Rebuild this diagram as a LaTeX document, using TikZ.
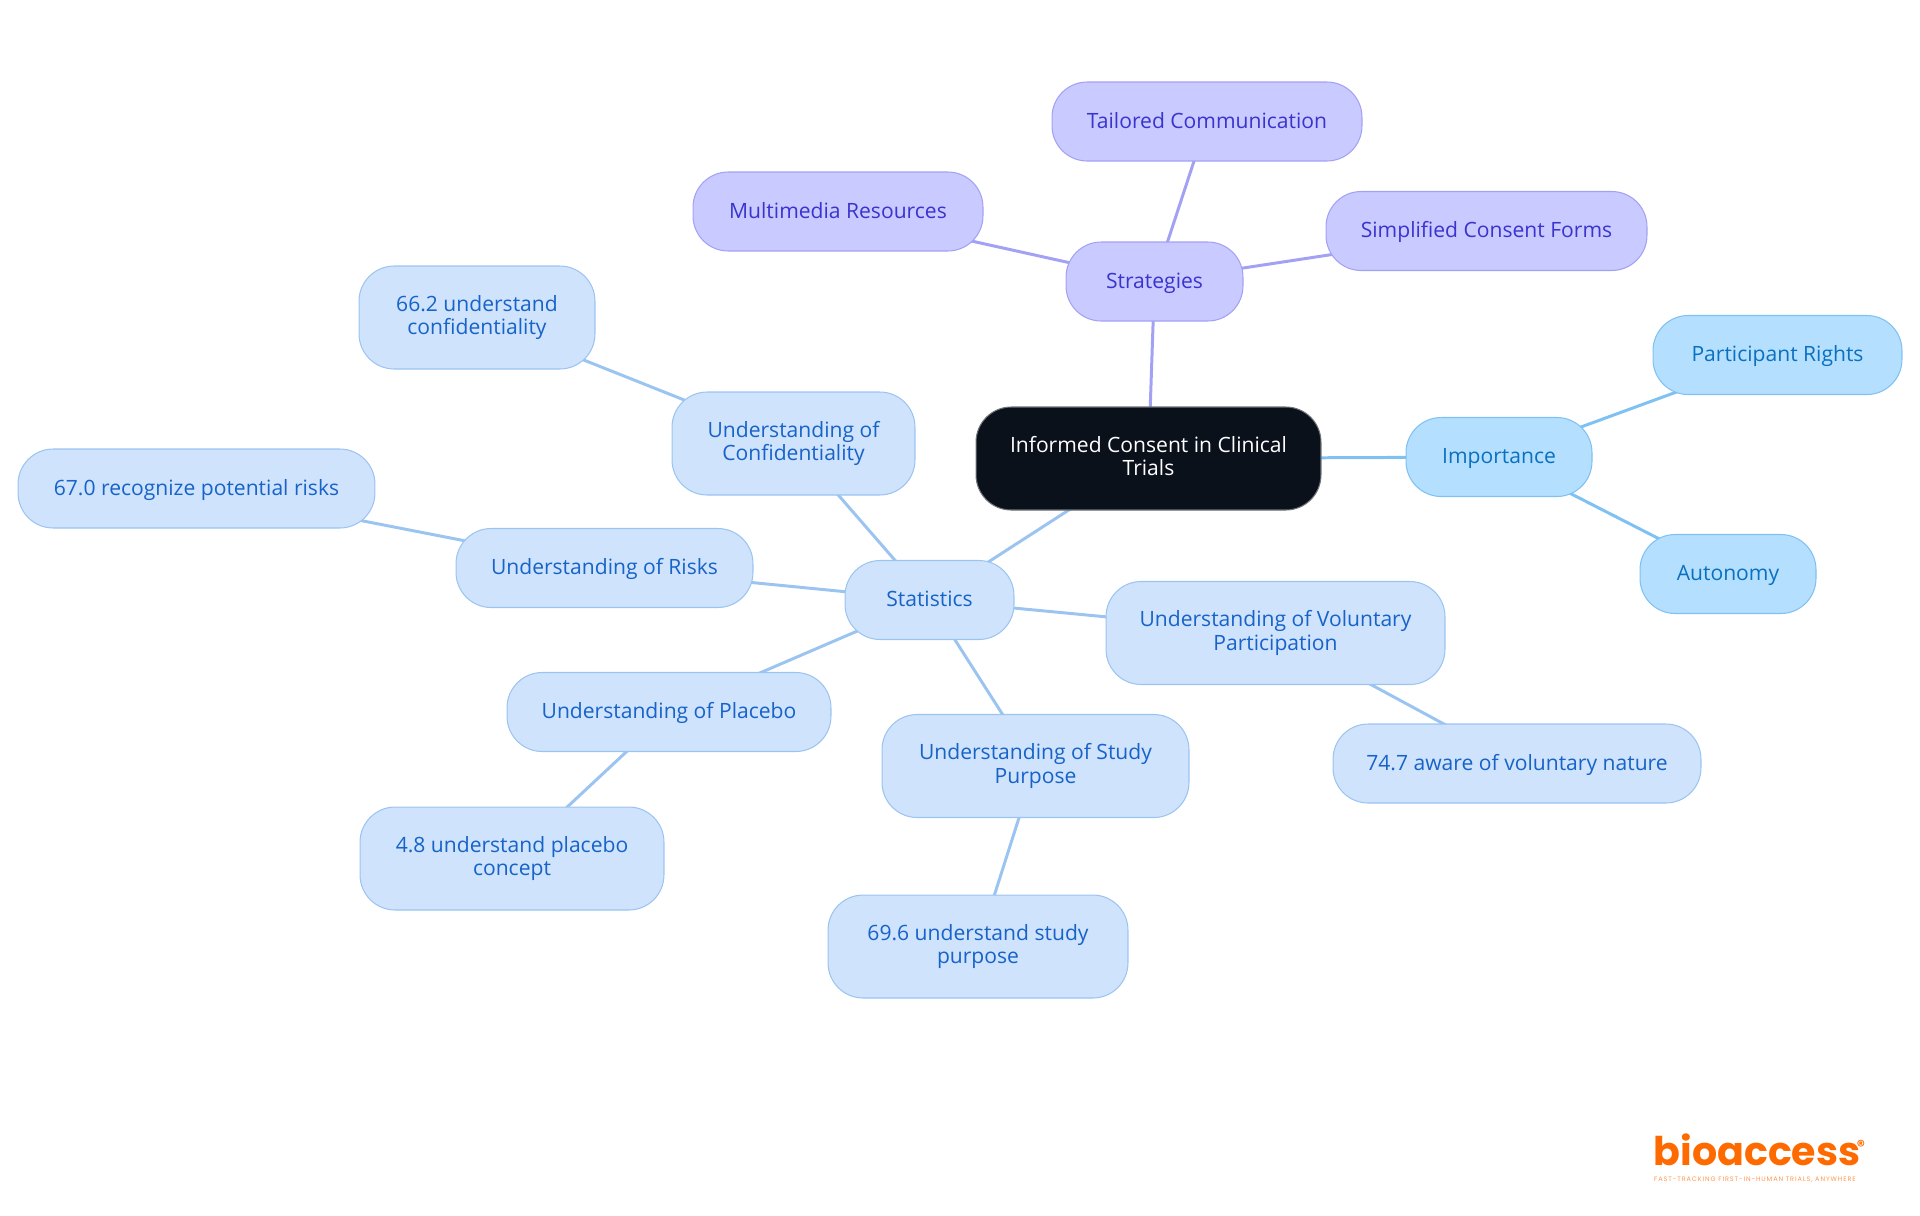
\documentclass[tikz,border=0pt]{standalone}
\usepackage{fontspec}
\usetikzlibrary{backgrounds}
\setmainfont{Open Sans}
\newfontfamily\logofont{Poppins}
\newfontfamily\tagfont[LetterSpace=14]{Poppins}
\definecolor{rootfill}{HTML}{0B111B}
\definecolor{rootline}{HTML}{6F7378}
\definecolor{stratfill}{HTML}{C9CAFF}
\definecolor{stratline}{HTML}{A3A1F3}
\definecolor{strattext}{HTML}{3A34CE}
\definecolor{impfill}{HTML}{B5DFFF}
\definecolor{impline}{HTML}{7FC1F2}
\definecolor{imptext}{HTML}{0A70C0}
\definecolor{statfill}{HTML}{CFE3FC}
\definecolor{statline}{HTML}{9CC4F1}
\definecolor{stattext}{HTML}{1763C8}
\definecolor{logoorange}{HTML}{FF6A00}
\tikzset{
  mapnode/.style={rounded corners=20pt, line width=0.6pt, inner sep=0pt, align=center,
    font=\fontsize{12pt}{13.2pt}\selectfont,
    execute at begin node={\rule{0pt}{10.8pt}}, execute at end node={\rule[-3pt]{0pt}{3pt}}},
  oneline/.style={minimum height=1.58cm},
  twoline/.style={minimum height=2.06cm},
  rootnode/.style={mapnode, twoline, fill=rootfill, draw=rootline, text=white},
  stratnode/.style={mapnode, oneline, fill=stratfill, draw=stratline, text=strattext},
  impnode/.style={mapnode, oneline, fill=impfill, draw=impline, text=imptext},
  statnode/.style={mapnode, oneline, fill=statfill, draw=statline, text=stattext},
  stratlink/.style={draw=stratline, line width=1.7pt},
  implink/.style={draw=impline, line width=1.7pt},
  statlink/.style={draw=statline, line width=1.7pt}
}
\begin{document}
\begin{tikzpicture}[x=0.02cm, y=-0.02cm]
        \useasboundingbox (0, 0) rectangle (1920, 1215);
        \node[rootnode, minimum width=6.9cm] (root) at (1148.5, 458.5) {Informed Consent in Clinical\\Trials};
        \node[stratnode, minimum width=3.54cm] (strategies) at (1154.5, 281.5) {Strategies};
        \node[stratnode, minimum width=6.2cm] (tailored) at (1207, 121.5) {Tailored Communication};
        \node[stratnode, minimum width=5.8cm] (multimedia) at (838, 211.5) {Multimedia Resources};
        \node[stratnode, minimum width=6.42cm] (simplified) at (1486.5, 231) {Simplified Consent Forms};
        \node[impnode, minimum width=3.72cm] (importance) at (1499, 457) {Importance};
        \node[impnode, minimum width=4.98cm] (rights) at (1777.5, 355) {Participant Rights};
        \node[impnode, minimum width=3.52cm] (autonomy) at (1728, 574) {Autonomy};
        \node[statnode, minimum width=3.38cm] (statistics) at (929.5, 600) {Statistics};
        \node[statnode, twoline, minimum width=4.86cm] (confid) at (793.5, 443.5) {Understanding of\\Confidentiality};
        \node[statnode, twoline, minimum width=4.72cm] (confidval) at (477, 317.5) {66.2 understand\\confidentiality};
        \node[statnode, minimum width=5.94cm] (risks) at (604.5, 568) {Understanding of Risks};
        \node[statnode, minimum width=7.14cm] (risksval) at (196.5, 488.5) {67.0 recognize potential risks};
        \node[statnode, minimum width=6.48cm] (placebo) at (669, 712) {Understanding of Placebo};
        \node[statnode, twoline, minimum width=6.08cm] (placeboval) at (512, 858.5) {4.8 understand placebo\\concept};
        \node[statnode, twoline, minimum width=6.14cm] (purpose) at (1035.5, 766) {Understanding of Study\\Purpose};
        \node[statnode, twoline, minimum width=6cm] (purposeval) at (978, 946.5) {69.6 understand study\\purpose};
        \node[statnode, twoline, minimum width=6.78cm] (voluntary) at (1275.5, 633) {Understanding of Voluntary\\Participation};
        \node[statnode, minimum width=7.36cm] (voluntaryval) at (1517, 763.5) {74.7 aware of voluntary nature};
        \node[text=logoorange, inner sep=0pt, text depth=0pt, font=\logofont\bfseries\fontsize{22.5pt}{22.5pt}\selectfont] (logo) at (1757, 1150) {bioaccess};
        \node[text=logoorange, inner sep=0pt, font=\logofont\bfseries\fontsize{9pt}{9pt}\selectfont] (logomark) at (1861, 1146) {®};
        \node[text=logoorange!70, inner sep=0pt, font=\tagfont\fontsize{3.7pt}{3.7pt}\selectfont] (logotag) at (1755, 1180) {FAST-TRACKING FIRST-IN-HUMAN TRIALS, ANYWHERE};
        \begin{pgfonlayer}{background}
        \draw[stratlink] (root.center) -- (strategies.center);
        \draw[stratlink] (strategies.center) -- (tailored.center);
        \draw[stratlink] (strategies.center) -- (multimedia.center);
        \draw[stratlink] (strategies.center) -- (simplified.center);
        \draw[implink] (root.center) -- (importance.center);
        \draw[implink] (importance.center) -- (rights.center);
        \draw[implink] (importance.center) -- (autonomy.center);
        \draw[statlink] (root.center) -- (statistics.center);
        \draw[statlink] (statistics.center) -- (confid.center);
        \draw[statlink] (confid.center) -- (confidval.center);
        \draw[statlink] (statistics.center) -- (risks.center);
        \draw[statlink] (risks.center) -- (risksval.center);
        \draw[statlink] (statistics.center) -- (placebo.center);
        \draw[statlink] (placebo.center) -- (placeboval.center);
        \draw[statlink] (statistics.center) -- (purpose.center);
        \draw[statlink] (purpose.center) -- (purposeval.center);
        \draw[statlink] (statistics.center) -- (voluntary.center);
        \draw[statlink] (voluntary.center) -- (voluntaryval.center);
        \end{pgfonlayer}
\end{tikzpicture}
\end{document}
